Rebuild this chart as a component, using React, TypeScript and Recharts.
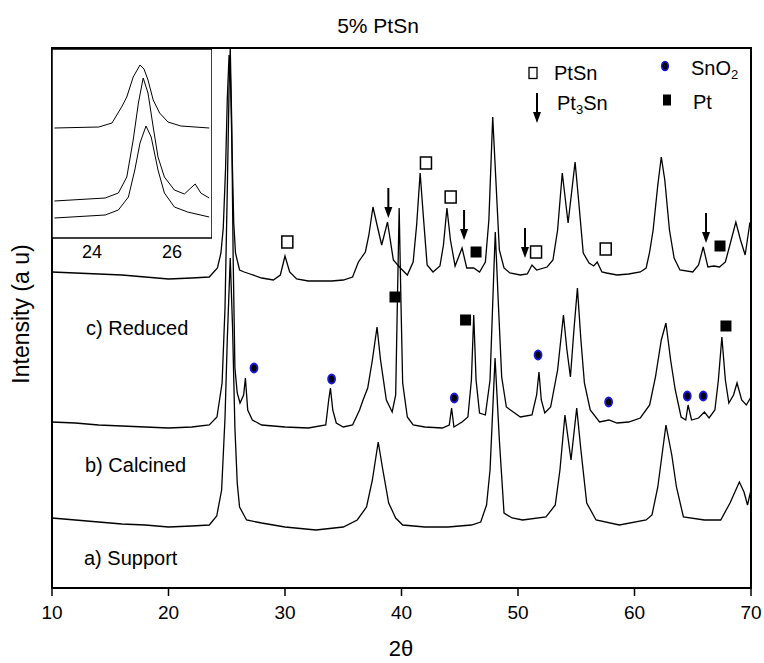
import React from 'react';
import { ComposedChart, Line, Scatter, XAxis, YAxis, ReferenceArea } from 'recharts';

const FONT = "'Liberation Sans', Arial, Helvetica, sans-serif";

// [2θ, intensity], arbitrary units (traces already stacked)
const reducedPattern: [number, number][] = [
  [10, 316], [12, 315], [14, 314], [16, 313], [18, 311], [20, 309], [22, 310], [23.5, 311],
  [24.2, 320], [24.5, 335], [24.7, 360], [24.9, 420], [25.05, 490], [25.2, 533], [25.3, 520],
  [25.45, 440], [25.6, 365], [25.75, 335], [26.1, 318], [26.5, 316], [27, 314], [28, 310],
  [29, 308], [29.6, 313], [30, 332],
  [30.4, 316], [31, 309], [32, 307], [34, 307], [35, 308], [35.8, 311], [36.3, 326], [36.9, 336],
  [37.2, 353], [37.55, 381], [37.9, 363], [38.3, 343], [38.8, 366], [39.3, 328], [39.9, 320],
  [40.5, 313], [41, 326], [41.3, 363], [41.6, 415], [41.9, 368], [42.2, 323], [42.7, 316],
  [43.3, 322], [43.6, 343], [43.9, 380], [44.2, 348], [44.6, 322], [45.2, 340], [45.6, 320],
  [46.2, 320], [46.7, 316], [47.2, 326], [47.5, 368], [47.83, 471], [48.1, 408], [48.4, 338],
  [48.8, 320], [49.3, 315], [50.2, 313], [50.8, 314], [51.2, 323], [51.6, 318], [52.5, 321],
  [53, 328], [53.4, 358], [53.8, 415], [54.3, 365], [54.9, 426], [55.2, 388], [55.6, 335],
  [56.1, 325], [56.5, 322], [56.8, 326], [57.2, 316], [57.6, 315], [58.5, 313], [59.5, 314],
  [60.5, 316], [61, 320], [61.3, 336], [61.6, 358], [62, 403], [62.3, 431], [62.6, 408],
  [63, 358], [63.4, 330], [63.9, 318], [65, 316], [65.5, 323], [65.9, 341], [66.3, 321],
  [66.8, 322], [67.3, 321], [67.8, 326], [68.3, 348], [68.7, 366], [69.1, 348], [69.5, 333],
  [69.9, 365], [70, 366],
];

const calcinedPattern: [number, number][] = [
  [10, 166], [12, 165], [14, 163], [16, 162], [18, 161], [20, 160], [22, 161], [23.5, 163],
  [24.16, 171], [24.6, 205], [24.85, 280], [25.05, 400], [25.2, 500], [25.3, 540], [25.42, 470],
  [25.55, 330], [25.7, 220], [25.9, 195], [26.14, 185], [26.45, 193], [26.6, 210], [26.8, 178],
  [27.2, 168], [28, 163],
  [30, 161], [32, 160], [33.5, 163], [33.75, 188], [33.9, 200], [34.1, 178], [34.4, 165],
  [35, 161], [35.8, 163], [36.4, 178], [36.7, 188], [37.1, 200], [37.5, 228], [37.9, 261],
  [38.2, 228], [38.7, 188], [39.2, 176], [39.5, 193], [39.65, 288], [39.8, 380], [39.95, 288],
  [40.1, 205], [40.5, 171], [41, 163], [42, 161], [43.5, 160], [44.1, 163], [44.3, 180],
  [44.5, 161], [45.2, 166], [45.7, 171], [46, 208], [46.2, 273], [46.4, 208], [46.7, 175],
  [47.2, 173], [47.6, 208], [47.9, 308], [48.05, 356], [48.3, 288], [48.6, 211], [49, 181],
  [50.2, 171], [51.2, 173], [51.6, 193], [51.8, 216], [52, 188], [52.3, 175], [52.8, 181],
  [53.4, 218], [53.9, 273], [54.2, 238], [54.5, 211], [54.8, 258], [55.1, 300], [55.4, 248],
  [55.7, 205], [56.2, 178], [57, 166], [57.8, 168], [58.5, 165], [59.5, 166], [60.5, 170],
  [61.3, 183], [61.8, 211], [62.3, 248], [62.7, 265], [63.1, 228], [63.5, 198], [64, 171],
  [64.4, 168], [64.6, 183], [64.9, 168], [65.5, 170], [66, 176], [66.4, 170], [66.9, 178],
  [67.2, 208], [67.5, 251], [67.8, 208], [68.1, 185], [68.5, 193], [68.8, 205], [69.2, 188],
  [69.6, 183], [70, 191],
];

const supportPattern: [number, number][] = [
  [10, 70], [12, 68], [14, 66], [16, 64], [18, 63], [20, 61], [22, 62], [23.5, 63],
  [24.14, 72], [24.56, 98], [24.85, 170], [25.05, 250], [25.3, 330], [25.5, 260], [25.7, 160],
  [25.9, 105], [26.1, 81], [26.7, 68], [28, 65], [30, 61], [32.65, 58], [35, 61], [36.2, 68], [37, 81],
  [37.5, 108], [38, 146], [38.4, 118], [38.9, 85], [39.5, 70], [40.1, 63], [42, 61], [44, 61],
  [46, 63], [46.8, 66], [47.3, 83], [47.6, 118], [48.03, 230], [48.4, 148], [48.8, 75],
  [49.5, 70], [50.4, 68], [52.4, 71], [53.2, 83], [53.6, 118], [54.03, 173], [54.55, 128],
  [55.04, 180], [55.4, 138], [55.9, 85], [56.7, 68], [58.7, 63], [61, 68], [61.5, 73],
  [62, 101], [62.7, 163], [63.2, 133], [63.6, 101], [64.2, 71], [66, 68], [67.4, 68],
  [68.2, 85], [69, 106], [69.4, 96], [69.7, 83], [70, 98],
];

// inset, 23–27° around the anatase (101) reflection
const insetReduced: [number, number][] = [
  [23.06, 110], [24.17, 111], [24.5, 115], [24.74, 131], [24.87, 141], [25.03, 161],
  [25.2, 173], [25.3, 169], [25.4, 158], [25.53, 138], [25.69, 125], [25.9, 116],
  [26.22, 112], [26.93, 110],
];
const insetCalcined: [number, number][] = [
  [23.06, 37], [24.33, 40], [24.66, 45], [24.87, 61], [25.03, 98], [25.16, 135], [25.28, 160],
  [25.4, 145], [25.53, 111], [25.65, 81], [25.81, 61], [26.06, 48], [26.31, 44], [26.47, 50],
  [26.58, 54], [26.72, 45], [26.93, 40],
];
const insetSupport: [number, number][] = [
  [23.06, 20], [24.33, 23], [24.66, 28], [24.91, 41], [25.07, 68], [25.2, 95], [25.35, 112],
  [25.48, 101], [25.65, 68], [25.81, 45], [26.06, 31], [26.39, 26], [26.93, 21],
];

const xTicks = [10, 20, 30, 40, 50, 60, 70];
const insetTicks = [24, 26];

// phase markers [2θ, height]
const ptSnMarks: [number, number][] = [[30.2, 346], [42.1, 425], [44.22, 391], [51.55, 336], [57.53, 339]];
const pt3SnMarks: [number, number][] = [[38.87, 370], [45.37, 348], [50.6, 330], [66.14, 345]];
const ptMarks: [number, number][] = [[39.44, 291], [45.5, 268], [46.4, 336], [67.34, 342], [67.85, 262]];
const snO2Marks: [number, number][] = [[27.34, 220], [34.0, 209], [44.53, 190], [51.72, 233], [57.78, 186], [64.53, 192], [65.9, 192]];

const toPoints = (rows: [number, number][]) => rows.map(([x, y]) => ({ x, y }));

const OpenSquare = (p: any) => (
  <rect x={p.cx - 5.5} y={p.cy - 6} width={11} height={12} fill="#fff" stroke="#000" strokeWidth={1.5} />
);
const FilledSquare = (p: any) => <rect x={p.cx - 5.5} y={p.cy - 5.5} width={11} height={11} fill="#000" />;
const BlueDot = (p: any) => (
  <ellipse cx={p.cx} cy={p.cy} rx={3.5} ry={4.5} fill="#000" stroke="#1a1ae6" strokeWidth={1.8} />
);
const DownArrow = (p: any) => (
  <g>
    <line x1={p.cx} y1={p.cy - 30} x2={p.cx} y2={p.cy - 9} stroke="#000" strokeWidth={2} />
    <path d={`M${p.cx - 4},${p.cy - 11} L${p.cx + 4},${p.cy - 11} L${p.cx},${p.cy} Z`} fill="#000" />
  </g>
);

const trace = (rows: [number, number][], w = 1.3) => (
  <Line data={toPoints(rows)} dataKey="y" type="linear" stroke="#000" strokeWidth={w} dot={false}
    activeDot={false} isAnimationActive={false} />
);

export default function App() {
  const txt = { fontFamily: FONT, fill: '#000' };
  return (
    <div style={{ position: 'absolute', left: 0, top: 0, width: 764, height: 663, background: '#fff' }}>
      <ComposedChart width={764} height={663} margin={{ top: 48, right: 13, bottom: 0, left: 52 }}>
        <XAxis dataKey="x" type="number" domain={[10, 70]} ticks={xTicks} allowDataOverflow height={75}
          axisLine={{ stroke: '#000', strokeWidth: 2 }} tickLine={{ stroke: '#000', strokeWidth: 1.5 }}
          tickSize={8} tickMargin={10} tick={{ fill: '#000', fontSize: 19, fontFamily: FONT }} />
        <YAxis hide dataKey="y" type="number" domain={[0, 540]} allowDataOverflow />
        <ReferenceArea x1={10} x2={70} y1={0} y2={540} fill="none" stroke="#000" strokeWidth={2} />
        {trace(supportPattern)}
        {trace(calcinedPattern)}
        {trace(reducedPattern)}
        <Scatter data={toPoints(ptSnMarks)} dataKey="y" shape={OpenSquare} isAnimationActive={false} />
        <Scatter data={toPoints(pt3SnMarks)} dataKey="y" shape={DownArrow} isAnimationActive={false} />
        <Scatter data={toPoints(ptMarks)} dataKey="y" shape={FilledSquare} isAnimationActive={false} />
        <Scatter data={toPoints(snO2Marks)} dataKey="y" shape={BlueDot} isAnimationActive={false} />
      </ComposedChart>

      <div style={{ position: 'absolute', left: 52, top: 48 }}>
        <ComposedChart width={160} height={220} margin={{ top: 1, right: 0, bottom: 0, left: 0 }}>
          <XAxis dataKey="x" type="number" domain={[23, 27]} ticks={insetTicks} allowDataOverflow height={30}
            axisLine={false} tickLine={false} tickSize={0} tickMargin={7}
            tick={{ fill: '#000', fontSize: 18, fontFamily: FONT }} />
          <YAxis hide dataKey="y" type="number" domain={[0, 189]} allowDataOverflow />
          <ReferenceArea x1={23} x2={27} y1={0} y2={189} fill="#fff" fillOpacity={1} stroke="#000" strokeWidth={1.5} />
          {trace(insetReduced, 1)}
          {trace(insetCalcined, 1)}
          {trace(insetSupport, 1)}
        </ComposedChart>
      </div>

      <svg width={764} height={663} style={{ position: 'absolute', left: 0, top: 0, pointerEvents: 'none' }}>
        <text x={378} y={25} textAnchor="middle" dominantBaseline="central" fontSize={21} {...txt}>5% PtSn</text>
        <text x={21} y={314} transform="rotate(-90 21 314)" textAnchor="middle" dominantBaseline="central"
          fontSize={23} {...txt}>Intensity (a u)</text>
        <text x={401} y={648} textAnchor="middle" dominantBaseline="central" fontSize={22} {...txt}>2θ</text>
        <text x={86} y={328} dominantBaseline="central" fontSize={20} {...txt}>c) Reduced</text>
        <text x={85} y={465} dominantBaseline="central" fontSize={20} {...txt}>b) Calcined</text>
        <text x={84} y={558} dominantBaseline="central" fontSize={20} {...txt}>a) Support</text>

        <rect x={529} y={67.5} width={8} height={11} fill="#fff" stroke="#000" strokeWidth={1.3} />
        <text x={554} y={73} dominantBaseline="central" fontSize={20} {...txt}>PtSn</text>
        <line x1={537} y1={93} x2={537} y2={114} stroke="#000" strokeWidth={2} />
        <path d="M533,112 L541,112 L537,123 Z" fill="#000" />
        <text x={557} y={103} dominantBaseline="central" fontSize={20} {...txt}>
          Pt<tspan dy={6} fontSize={13}>3</tspan><tspan dy={-6}>Sn</tspan>
        </text>
        <ellipse cx={665} cy={66} rx={3.3} ry={4.5} fill="#000" stroke="#1a1ae6" strokeWidth={1.6} />
        <text x={691} y={68} dominantBaseline="central" fontSize={20} {...txt}>
          SnO<tspan dy={6} fontSize={13}>2</tspan>
        </text>
        <rect x={663} y={94.5} width={8} height={11} fill="#000" />
        <text x={693} y={102} dominantBaseline="central" fontSize={20} {...txt}>Pt</text>
      </svg>
    </div>
  );
}
